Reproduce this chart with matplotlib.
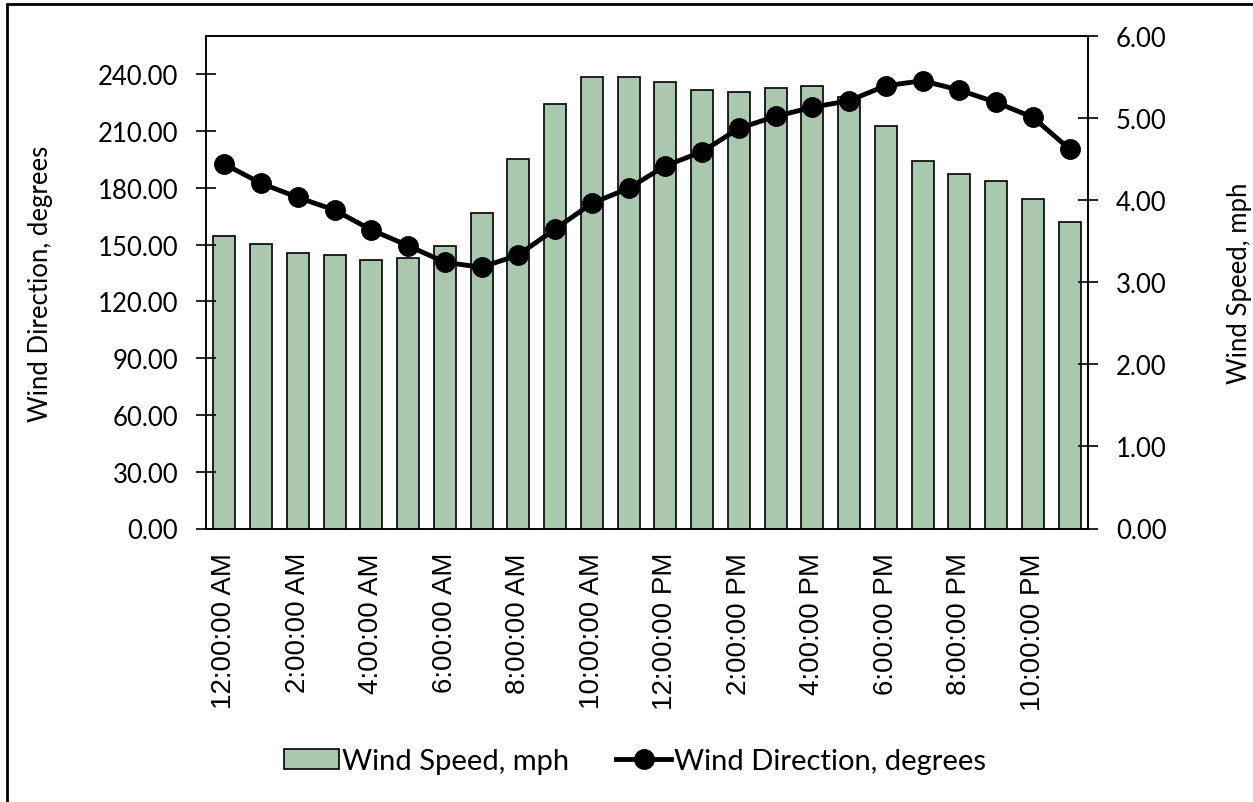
import numpy as np
import matplotlib.pyplot as plt
from matplotlib.patches import Rectangle
from matplotlib.lines import Line2D
from matplotlib.ticker import FormatStrFormatter

# hourly averages, midnight through 11 PM
hours = ['12:00:00 AM', '1:00:00 AM', '2:00:00 AM', '3:00:00 AM', '4:00:00 AM', '5:00:00 AM',
         '6:00:00 AM', '7:00:00 AM', '8:00:00 AM', '9:00:00 AM', '10:00:00 AM', '11:00:00 AM',
         '12:00:00 PM', '1:00:00 PM', '2:00:00 PM', '3:00:00 PM', '4:00:00 PM', '5:00:00 PM',
         '6:00:00 PM', '7:00:00 PM', '8:00:00 PM', '9:00:00 PM', '10:00:00 PM', '11:00:00 PM']
wind_speed = [3.57, 3.47, 3.36, 3.34, 3.27, 3.30, 3.44, 3.84, 4.50, 5.18, 5.50, 5.50,
              5.44, 5.34, 5.32, 5.37, 5.39, 5.26, 4.91, 4.48, 4.32, 4.24, 4.02, 3.74]
wind_dir = [192.5, 182.3, 174.9, 168.2, 157.7, 149.4, 140.6, 138.0, 144.5, 158.2, 171.8, 179.7,
            191.6, 199.0, 211.4, 217.7, 222.5, 226.0, 233.9, 236.5, 231.6, 225.1, 217.2, 200.4]
dir_ticks = [0, 30, 60, 90, 120, 150, 180, 210, 240]
speed_ticks = [0, 1, 2, 3, 4, 5, 6]

bar_color = '#A9C8AE'
label_font = 'Lato'
time_font = 'Liberation Sans'

W, H = 1253, 803
fig = plt.figure(figsize=(W / 100, H / 100), dpi=100)
fig.patch.set_facecolor('white')

# plot area in pixels: left 206, right 1088, top 37, bottom 529.5
x0, x1, y0, y1 = 206, 1088, 37.3, 529.5
ax = fig.add_axes([x0 / W, 1 - y1 / H, (x1 - x0) / W, (y1 - y0) / H])
ax2 = ax.twinx()
ax.set_zorder(ax2.get_zorder() + 1)
ax.patch.set_visible(False)

x = np.arange(len(hours))

# wind speed bars on the right-hand scale
ax2.bar(x, wind_speed, width=0.6, color=bar_color, edgecolor='black', linewidth=1.2)
ax2.set_ylim(0, 6)
ax2.set_yticks(speed_ticks)
ax2.yaxis.set_major_formatter(FormatStrFormatter('%.2f'))

# wind direction line on the left-hand scale
ax.plot(x, wind_dir, color='black', linewidth=3.5, marker='o', markersize=14)
ax.set_ylim(0, 260)
ax.set_yticks(dir_ticks)
ax.yaxis.set_major_formatter(FormatStrFormatter('%.2f'))

ax.set_xlim(-0.5, len(hours) - 0.5)
ax.set_xticks(x[::2])
ax.set_xticklabels(hours[::2], rotation=90, fontsize=20, family=time_font)
ax.tick_params(axis='x', length=0, pad=17)

for a in (ax, ax2):
    for s in a.spines.values():
        s.set_linewidth(1.2)
        s.set_color('black')
ax.tick_params(axis='y', direction='inout', length=14, width=1.2, pad=13, labelsize=18.5)
ax2.tick_params(axis='y', direction='inout', length=14, width=1.2, pad=13, labelsize=18.5)
for lab in ax.get_yticklabels() + ax2.get_yticklabels():
    lab.set_family(label_font)

ax.set_ylabel('Wind Direction, degrees', fontsize=18.5, family=label_font)
ax2.set_ylabel('Wind Speed, mph', fontsize=18.5, family=label_font)
ax.yaxis.set_label_coords((53 - x0) / (x1 - x0), 0.5)
ax2.yaxis.set_label_coords((1227 - x0) / (x1 - x0), 0.5)

handles = [Rectangle((0, 0), 1, 1, facecolor=bar_color, edgecolor='black', linewidth=1.2),
           Line2D([], [], color='black', linewidth=3.5, marker='o', markersize=14)]
fig.legend(handles, ['Wind Speed, mph', 'Wind Direction, degrees'], loc='center',
           bbox_to_anchor=(635 / W, 1 - 762 / H), ncol=2, frameon=False,
           prop={'family': label_font, 'size': 21}, handlelength=1.9, handletextpad=0.1,
           columnspacing=1.6)

# outer chart border
fig.add_artist(Rectangle((7 / W, -0.1), 1.2, 1.1 - 5 / H, transform=fig.transFigure,
                         fill=False, edgecolor='black', linewidth=2))

fig.savefig('out.png', dpi=100)
